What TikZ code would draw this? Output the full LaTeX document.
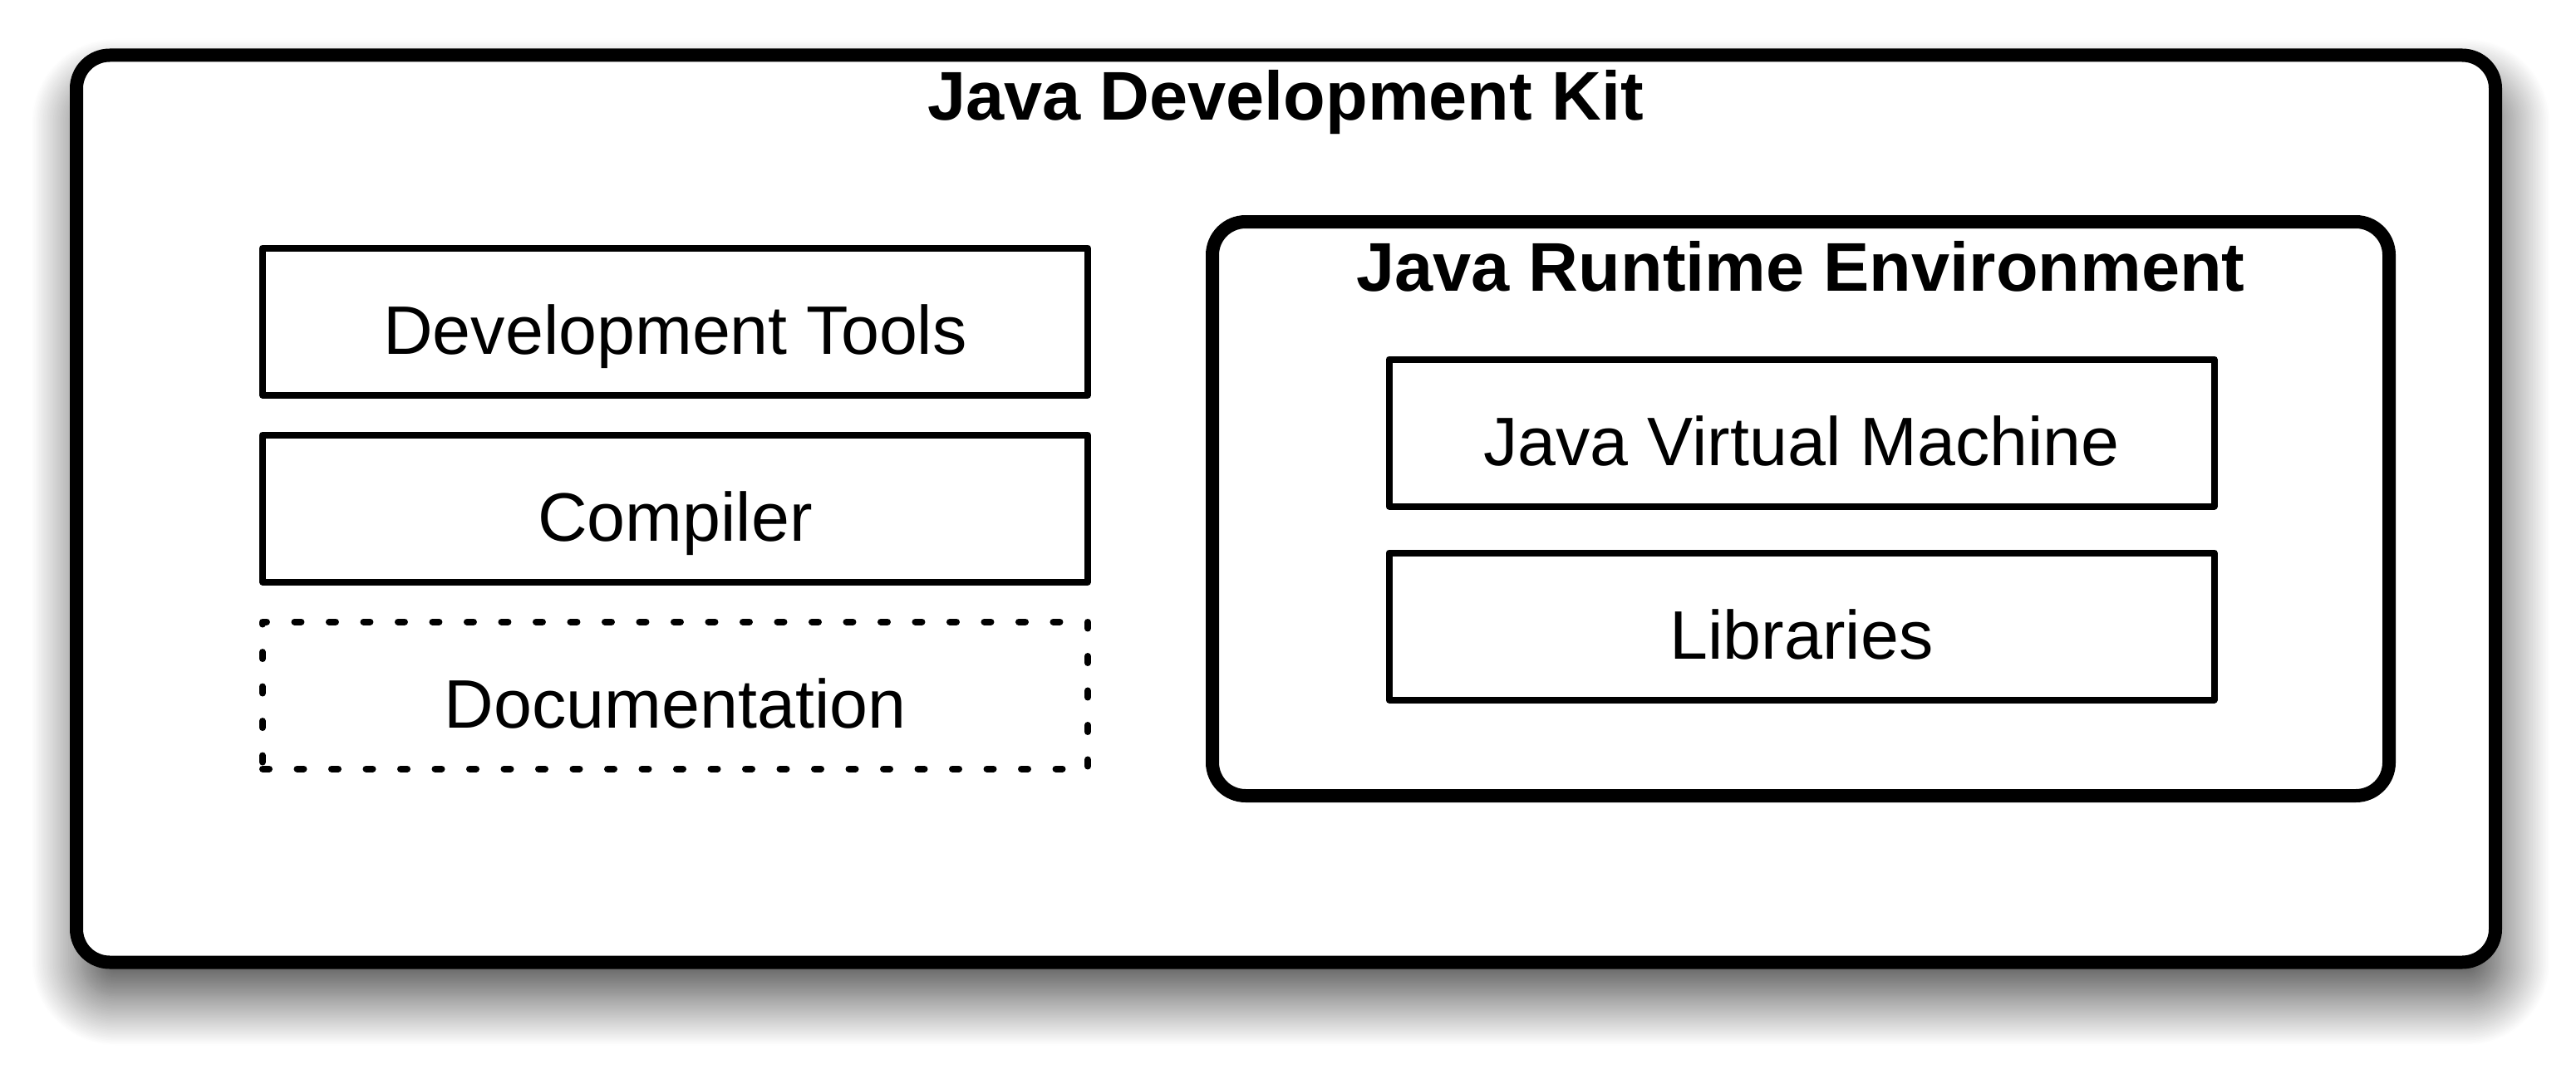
\documentclass[tikz,border=0pt]{standalone}
\usepackage{fontspec}
\setmainfont{Liberation Sans}
\usetikzlibrary{positioning,shadows.blur}

\begin{document}
\begin{tikzpicture}
[
kitbox/.style={draw, line width=0.16cm, rounded corners=0.4cm, fill=white, minimum width=29.11cm, minimum height=10.92cm,
  blur shadow={shadow xshift=0.06cm, shadow yshift=-0.4cm, shadow blur radius=0.6cm, shadow blur steps=40, shadow opacity=75}},
jrebox/.style={draw, line width=0.16cm, rounded corners=0.4cm, minimum width=14.16cm, minimum height=6.91cm},
partbox/.style={draw, line width=0.08cm, line join=round, minimum width=9.93cm, minimum height=1.77cm,
  inner ysep=0.05cm, text height=0.89cm, text depth=0.1cm, font=\fontsize{23.5pt}{28pt}\selectfont},
dottedbox/.style={partbox, line cap=round, dash pattern=on 0.08cm off 0.335cm},
titletext/.style={anchor=base, inner sep=0pt, font=\fontsize{23.6pt}{28pt}\selectfont\bfseries},
node distance=0.40cm
]
\useasboundingbox (0,0) rectangle (31,12.92);
% outer kit
\node (jdk) [kitbox] at (15.475,6.795) {};
\node (jdktitle) [titletext] at (15.47,11.48) {Java Development Kit};
% left column
\node (tools) [partbox] at (8.125,9.05) {Development Tools};
\node (compiler) [partbox, below=of tools] {Compiler};
\node (docs) [dottedbox, below=of compiler] {Documentation};
% runtime
\node (jre) [jrebox] at (21.67,6.795) {};
\node (jretitle) [titletext] at (21.67,9.42) {Java Runtime Environment};
\node (jvm) [partbox] at (21.68,7.71) {Java Virtual Machine};
\node (libs) [partbox, below=0.48cm of jvm] {Libraries};
\end{tikzpicture}
\end{document}
